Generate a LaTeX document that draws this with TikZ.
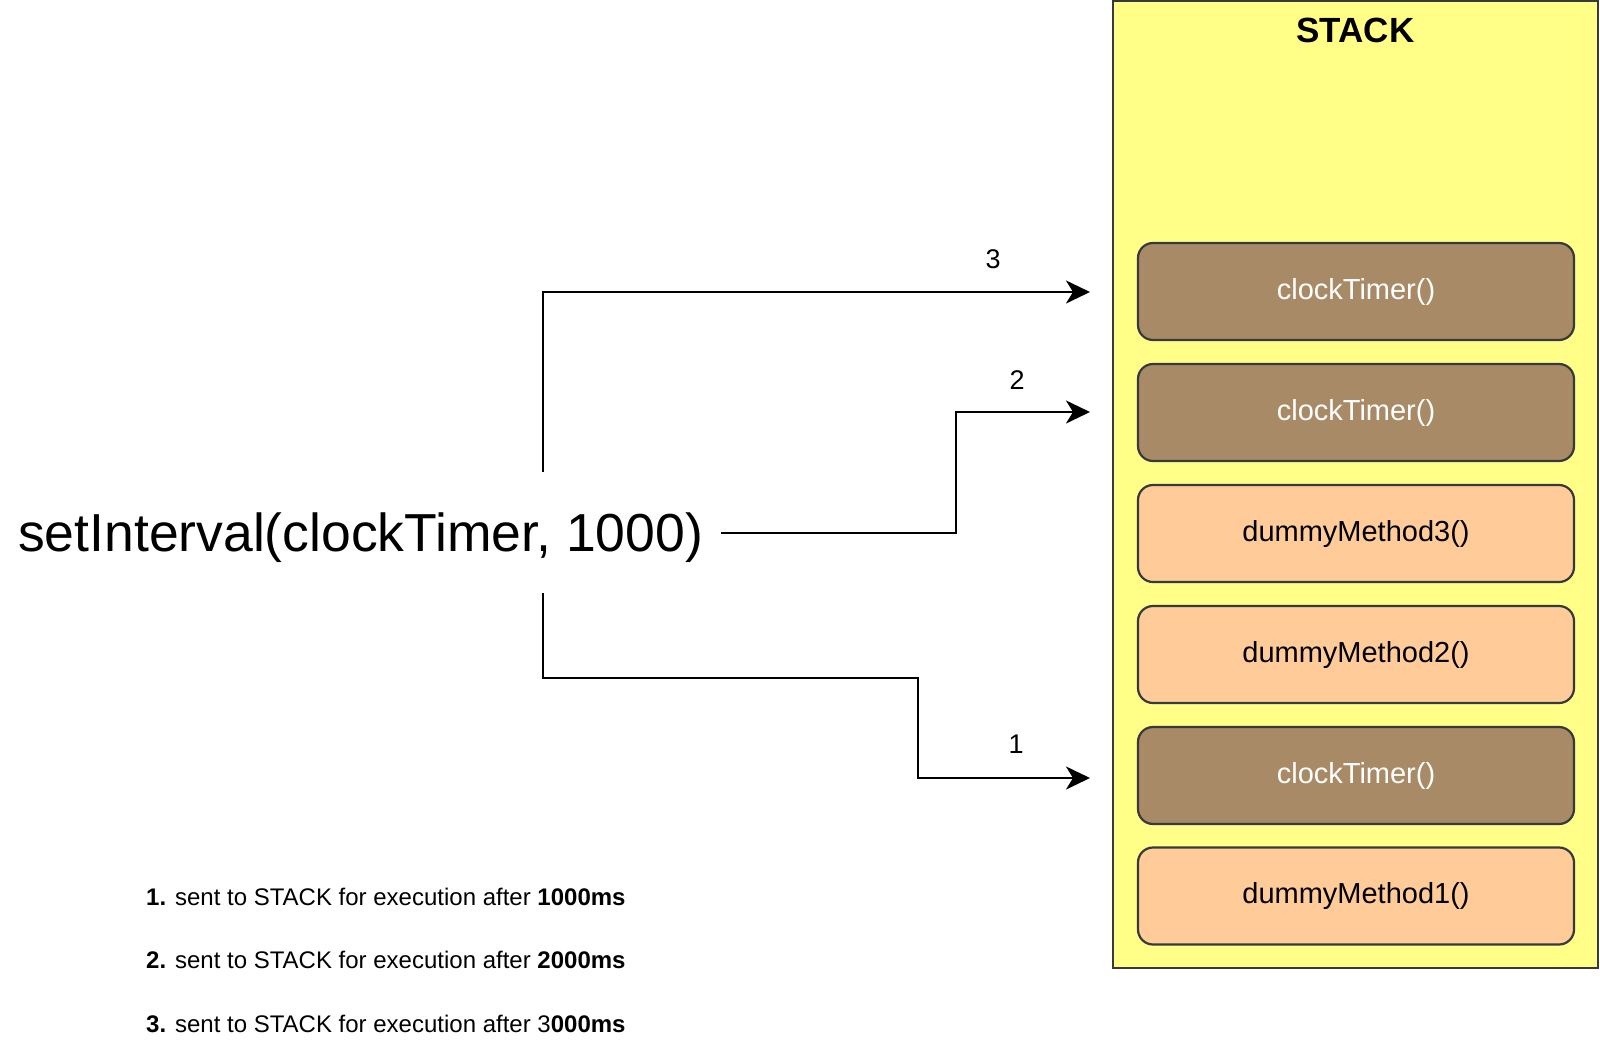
\documentclass[tikz,border=0pt]{standalone}
\usepackage{fontspec}
\setmainfont{Liberation Sans}
\usetikzlibrary{arrows.meta}
\definecolor{stackyellow}{HTML}{FFFF88}
\definecolor{stackline}{HTML}{36393D}
\definecolor{brownbox}{HTML}{A88A66}
\definecolor{peachbox}{HTML}{FFCC99}
\tikzset{
  stackframe/.style={draw=stackline, line width=2.5pt, fill=stackyellow},
  framebox/.style={draw=stackline, line width=2.2pt, rounded corners=15pt,
    minimum width=436pt, minimum height=97pt, inner sep=0pt,
    font=\fontsize{29}{33}\selectfont},
  timerbox/.style={framebox, fill=brownbox, text=white},
  dummybox/.style={framebox, fill=peachbox, text=black},
  flow/.style={draw=black, line width=2.6pt,
    -{Stealth[length=24pt,width=23pt,inset=7pt]}},
  numlabel/.style={font=\fontsize{27}{30}\selectfont, inner sep=0pt},
  notetext/.style={font=\fontsize{24}{28}\selectfont, inner sep=0pt, anchor=base west}
}
\begin{document}
\begin{tikzpicture}[x=1pt,y=-1pt]
\useasboundingbox (0,0) rectangle (1600,1050);
% stack container
\draw[stackframe] (1113,1) rectangle (1598,968);
\node[font=\bfseries\fontsize{35}{40}\selectfont] (title) at (1355.5,30) {STACK};
% stack frames
\node[timerbox] (c3) at (1356,291.5) {clockTimer()};
\node[timerbox] (c2) at (1356,412.5) {clockTimer()};
\node[dummybox] (d3) at (1356,533.5) {dummyMethod3()};
\node[dummybox] (d2) at (1356,654.5) {dummyMethod2()};
\node[timerbox] (c1) at (1356,775.5) {clockTimer()};
\node[dummybox] (d1) at (1356,896) {dummyMethod1()};
% source call
\node[anchor=base west, inner sep=0pt, font=\fontsize{53.5}{60}\selectfont] (si) at (18,551) {setInterval(clockTimer, 1000)};
% connector endpoints
\coordinate (s3) at (543,472);
\coordinate (t3) at (1090,292);
\coordinate (s2) at (721,533);
\coordinate (t2) at (1090,412);
\coordinate (s1) at (543,593);
\coordinate (t1) at (1090,778);
% connectors
\draw[flow] (s3) |- (t3);
\draw[flow] (s2) -- (956,533) |- (t2);
\draw[flow] (s1) -- (543,678) -- (918,678) |- (t1);
% labels
\node[numlabel] (l3) at (993,259) {3};
\node[numlabel] (l2) at (1017,380) {2};
\node[numlabel] (l1) at (1016,744) {1};
% notes
\node[notetext] (n1) at (146,905) {\textbf{1.} sent to STACK for execution after \textbf{1000ms}};
\node[notetext] (n2) at (146,968) {\textbf{2.} sent to STACK for execution after \textbf{2000ms}};
\node[notetext] (n3) at (146,1032) {\textbf{3.} sent to STACK for execution after 3\textbf{000ms}};
\end{tikzpicture}
\end{document}
